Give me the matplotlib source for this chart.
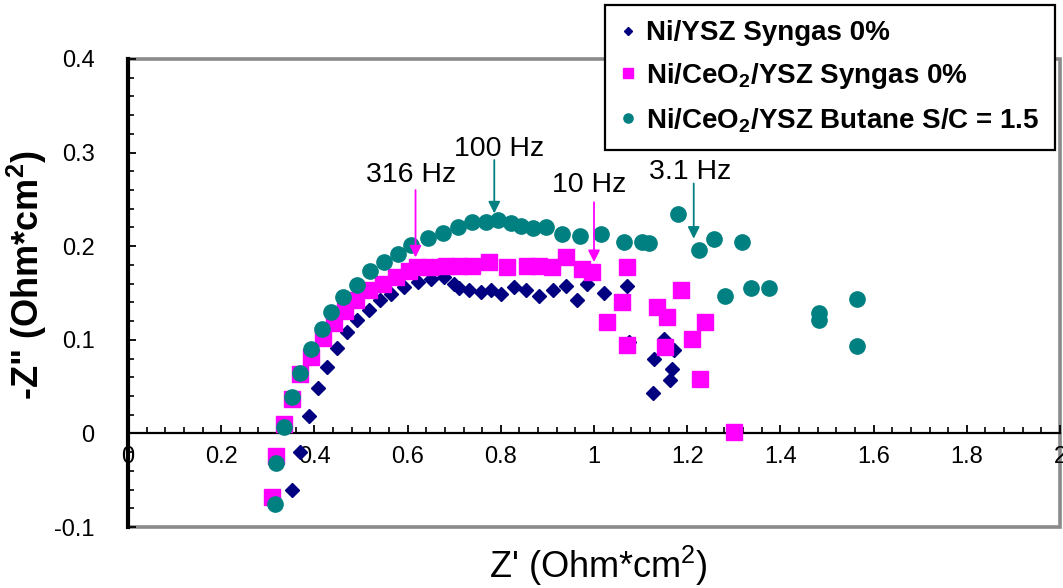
import matplotlib
matplotlib.use("Agg")
import matplotlib.pyplot as plt
from matplotlib.patches import Rectangle
from matplotlib.ticker import MultipleLocator, FuncFormatter

plt.rcParams["font.family"] = ["Liberation Sans", "DejaVu Sans"]
plt.rcParams["mathtext.fontset"] = "custom"
plt.rcParams["mathtext.rm"] = "Liberation Sans"
plt.rcParams["mathtext.bf"] = "Liberation Sans:bold"

# ----------------------------------
# IMPEDANCE DATA (Z', -Z'') in Ohm*cm2
# ----------------------------------
ni_ysz_zre = [0.351, 0.370, 0.388, 0.408, 0.428, 0.449, 0.470, 0.492, 0.517,
              0.540, 0.565, 0.593, 0.622, 0.650, 0.679, 0.700, 0.711, 0.732,
              0.757, 0.779, 0.800, 0.829, 0.854, 0.882, 0.911, 0.939, 0.964,
              0.986, 1.021, 1.071, 1.075, 1.150, 1.128, 1.171, 1.168, 1.164,
              1.127]
ni_ysz_zim = [-0.061, -0.020, 0.019, 0.048, 0.071, 0.091, 0.108, 0.121, 0.132,
              0.143, 0.149, 0.156, 0.162, 0.165, 0.167, 0.160, 0.155, 0.153,
              0.151, 0.153, 0.149, 0.156, 0.153, 0.147, 0.153, 0.158, 0.142,
              0.160, 0.150, 0.158, 0.098, 0.101, 0.080, 0.089, 0.069, 0.057,
              0.043]

ceo2_syngas_zre = [0.308, 0.317, 0.334, 0.351, 0.370, 0.393, 0.418, 0.443, 0.465,
                   0.490, 0.518, 0.547, 0.575, 0.604, 0.621, 0.647, 0.682, 0.711,
                   0.739, 0.775, 0.814, 0.857, 0.882, 0.910, 0.939, 0.975, 0.996,
                   1.071, 1.061, 1.028, 1.071, 1.136, 1.157, 1.186, 1.239, 1.211,
                   1.153, 1.228, 1.300]
ceo2_syngas_zim = [-0.068, -0.024, 0.010, 0.037, 0.063, 0.082, 0.102, 0.118, 0.131,
                   0.142, 0.153, 0.160, 0.167, 0.174, 0.178, 0.178, 0.179, 0.179,
                   0.179, 0.183, 0.178, 0.179, 0.179, 0.178, 0.188, 0.176, 0.172,
                   0.178, 0.140, 0.119, 0.094, 0.135, 0.124, 0.153, 0.119, 0.101,
                   0.092, 0.058, 0.001]

ceo2_butane_zre = [0.315, 0.318, 0.334, 0.353, 0.370, 0.393, 0.417, 0.436, 0.462,
                   0.492, 0.520, 0.550, 0.579, 0.608, 0.643, 0.675, 0.708, 0.739,
                   0.768, 0.793, 0.822, 0.843, 0.869, 0.898, 0.932, 0.970, 1.016,
                   1.064, 1.102, 1.118, 1.181, 1.225, 1.257, 1.318, 1.282, 1.336,
                   1.375, 1.482, 1.482, 1.564, 1.564]
ceo2_butane_zim = [-0.075, -0.032, 0.007, 0.039, 0.065, 0.090, 0.112, 0.130, 0.146,
                   0.159, 0.173, 0.183, 0.192, 0.201, 0.209, 0.214, 0.220, 0.226,
                   0.226, 0.228, 0.225, 0.222, 0.219, 0.221, 0.213, 0.211, 0.213,
                   0.205, 0.204, 0.203, 0.234, 0.196, 0.208, 0.205, 0.147, 0.155,
                   0.155, 0.129, 0.121, 0.144, 0.093]

# frequency markers: label, colour key, text pos, arrow x, arrow y start/end
freq_labels = ["316 Hz", "100 Hz", "10 Hz", "3.1 Hz"]
freq_colors = ["magenta", "teal", "magenta", "teal"]
freq_text_xy = [(0.608, 0.276), (0.797, 0.304), (0.989, 0.265), (1.206, 0.279)]
freq_arrow = [(0.617, 0.260, 0.188), (0.786, 0.292, 0.235),
              (1.000, 0.247, 0.183), (1.214, 0.267, 0.208)]

NAVY = "#000080"
MAGENTA = "#FF00FF"
TEAL = "#008080"
colors = {"magenta": MAGENTA, "teal": TEAL}

# ----------------------------------
# CREATE PLOT
# ----------------------------------
fig = plt.figure(figsize=(10.63, 5.88), dpi=100)
ax = fig.add_axes([128 / 1063, 61 / 588, 932 / 1063, 468 / 588])

ax.plot(ni_ysz_zre, ni_ysz_zim, "D", color=NAVY, ms=7.5, mec=NAVY,
        linestyle="none", zorder=3, label="Ni/YSZ Syngas 0%")
ax.plot(ceo2_syngas_zre, ceo2_syngas_zim, "s", color=MAGENTA, ms=11.5, mec=MAGENTA,
        linestyle="none", zorder=3, label=r"Ni/CeO$_\mathbf{2}$/YSZ Syngas 0%")
ax.plot(ceo2_butane_zre, ceo2_butane_zim, "o", color=TEAL, ms=11, mec=TEAL,
        linestyle="none", zorder=3, label=r"Ni/CeO$_\mathbf{2}$/YSZ Butane S/C = 1.5")

# frequency arrows
for label, ckey, (tx, ty), (axx, y0, y1) in zip(freq_labels, freq_colors,
                                                freq_text_xy, freq_arrow):
    c = colors[ckey]
    ax.text(tx, ty, label, fontsize=20.5, ha="center", va="center", color="black",
            zorder=5)
    ax.annotate("", xy=(axx, y1), xytext=(axx, y0),
                arrowprops=dict(arrowstyle="-|>,head_length=0.7,head_width=0.35",
                                color=c, lw=1.3, shrinkA=0, shrinkB=0),
                zorder=5)

# ----------------------------------
# AXES
# ----------------------------------
ax.set_xlim(0, 2)
ax.set_ylim(-0.1, 0.4)

ax.spines["top"].set_visible(False)
ax.spines["right"].set_visible(False)
ax.spines["bottom"].set_position(("data", 0))
ax.spines["bottom"].set_linewidth(1.6)
ax.spines["left"].set_linewidth(3.0)

# plot area border
ax.add_patch(Rectangle((0, 0), 1, 1, transform=ax.transAxes, fill=False,
                       edgecolor="#8a8a8a", lw=2.6, clip_on=False, zorder=0.5))

ax.xaxis.set_major_locator(MultipleLocator(0.2))
ax.xaxis.set_minor_locator(MultipleLocator(0.04))
ax.yaxis.set_major_locator(MultipleLocator(0.1))
ax.yaxis.set_minor_locator(MultipleLocator(0.02))
fmt = FuncFormatter(lambda v, p: f"{round(v, 2):g}")
ax.xaxis.set_major_formatter(fmt)
ax.yaxis.set_major_formatter(fmt)

ax.tick_params(axis="x", which="major", direction="in", length=6, width=1.3,
               labelsize=17, pad=9)
ax.tick_params(axis="x", which="minor", direction="in", length=4, width=1.2)
ax.tick_params(axis="y", which="major", direction="in", length=6, width=1.3,
               labelsize=17, pad=24)
ax.tick_params(axis="y", which="minor", direction="in", length=4, width=1.2)

fig.text(27 / 1063, 1 - 275 / 588, r'-Z" (Ohm*cm$^\mathbf{2}$)', rotation=90,
         fontsize=26, fontweight="bold", ha="center", va="center")
fig.text(598 / 1063, 1 - 566 / 588, r"Z' (Ohm*cm$^\mathrm{2}$)",
         fontsize=26, ha="center", va="center")

leg = fig.legend(loc="upper right", bbox_to_anchor=(1055 / 1063, 1 - 5 / 588),
                 borderaxespad=0, prop={"weight": "bold", "size": 20},
                 frameon=True, fancybox=False, framealpha=1, edgecolor="black",
                 handlelength=0.6, handletextpad=0.35, borderpad=0.55,
                 labelspacing=0.53, markerscale=0.6)
leg.get_frame().set_linewidth(1.6)

plt.savefig("out.png", dpi=100)
